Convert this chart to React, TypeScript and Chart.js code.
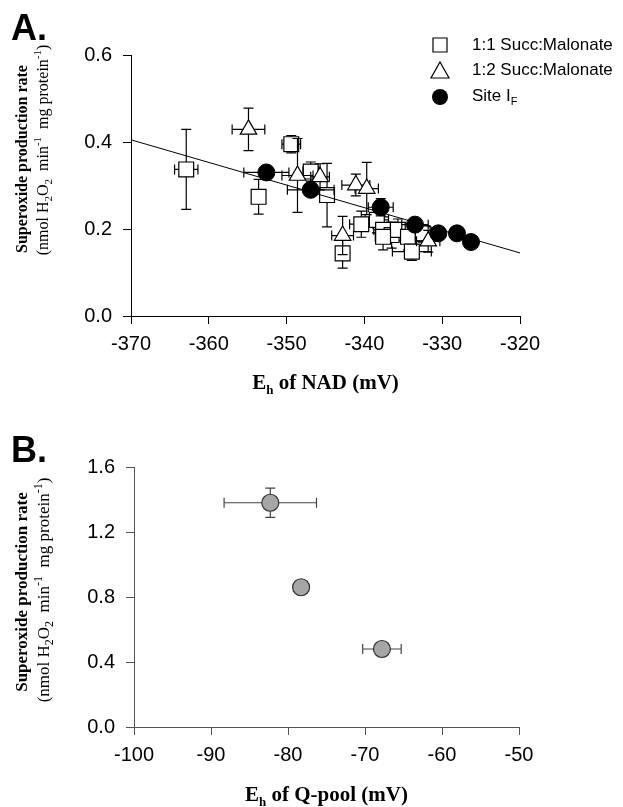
import React, { useEffect, useRef } from 'react';
import { Chart, registerables } from 'chart.js';
Chart.register(...registerables);

// ---------- Panel A data ----------
const nadTicks = [-370, -360, -350, -340, -330, -320];
const rateTicksA = [0.0, 0.2, 0.4, 0.6];

// 1:1 Succ:Malonate (squares)
const sq11X = [-362.9, -353.6, -349.4, -346.9, -344.8, -342.8, -340.4, -338.4, -337.6, -336.5, -335.7, -334.4, -333.9, -337.6, -332.5];
const sq11Y = [0.337, 0.274, 0.395, 0.332, 0.278, 0.144, 0.211, 0.221, 0.198, 0.186, 0.198, 0.182, 0.148, 0.182, 0.19];
const sq11XErr = [1.5, 0, 1.2, 1.0, 0, 0, 1.5, 1.5, 1.2, 1.2, 1.5, 1.5, 2.5, 1.0, 1.5];
const sq11YErr = [0.092, 0.04, 0.02, 0.022, 0.073, 0.034, 0.03, 0.03, 0.03, 0.03, 0.025, 0.03, 0.02, 0.03, 0.02];

// 1:2 Succ:Malonate (triangles)
const tr12X = [-354.9, -348.6, -345.7, -342.8, -341.1, -339.7, -331.8];
const tr12Y = [0.429, 0.323, 0.32, 0.185, 0.301, 0.293, 0.172];
const tr12XErr = [2.1, 2.0, 1.2, 1.4, 1.8, 1.5, 1.5];
const tr12YErr = [0.049, 0.085, 0.03, 0.044, 0.025, 0.06, 0.025];

// Site IF (black circles)
const siteX = [-352.6, -346.9, -337.9, -333.5, -330.5, -328.1, -326.3];
const siteY = [0.33, 0.29, 0.25, 0.21, 0.19, 0.19, 0.17];
const siteXErr = [2.9, 3.0, 1.6, 1.7, 0.8, 0, 0];
const siteYErr = [0, 0.01, 0.02, 0, 0, 0, 0];

// regression line
const fitX = [-370, -320];
const fitY = [0.405, 0.145];

// ---------- Panel B data ----------
const qTicks = [-100, -90, -80, -70, -60, -50];
const rateTicksB = [0.0, 0.4, 0.8, 1.2, 1.6];
const qX = [-82.3, -78.3, -67.8];
const qY = [1.38, 0.86, 0.48];
const qXErr = [6.0, 0, 2.5];
const qYErr = [0.09, 0, 0];

const SANS = '"Liberation Sans", Arial, sans-serif';
const SERIF = '"Liberation Serif", "Times New Roman", serif';

type Seg = { t: string; f: string; dy?: number };

function drawRich(ctx: CanvasRenderingContext2D, segs: Seg[], cx: number, cy: number, rotate: boolean, color = '#000') {
  ctx.save();
  ctx.translate(cx, cy);
  if (rotate) ctx.rotate(-Math.PI / 2);
  ctx.fillStyle = color;
  ctx.textAlign = 'left';
  ctx.textBaseline = 'alphabetic';
  let total = 0;
  segs.forEach((s) => {
    ctx.font = s.f;
    total += ctx.measureText(s.t).width;
  });
  let x = -total / 2;
  segs.forEach((s) => {
    ctx.font = s.f;
    ctx.fillText(s.t, x, s.dy || 0);
    x += ctx.measureText(s.t).width;
  });
  ctx.restore();
}

function pts(xs: number[], ys: number[]) {
  return xs.map((x, i) => ({ x, y: ys[i] }));
}

const errorBarPlugin = {
  id: 'errbars',
  beforeDatasetDraw(chart: any, args: any) {
    const ds = chart.data.datasets[args.index];
    if (!ds.errX && !ds.errY) return;
    const ctx = chart.ctx;
    const xs = chart.scales.x;
    const ys = chart.scales.y;
    const cap = 5;
    ctx.save();
    ctx.strokeStyle = ds.errColor || '#000';
    ctx.lineWidth = 1.2;
    ds.data.forEach((p: any, i: number) => {
      const px = xs.getPixelForValue(p.x);
      const py = ys.getPixelForValue(p.y);
      const ex = ds.errX ? ds.errX[i] : 0;
      const ey = ds.errY ? ds.errY[i] : 0;
      ctx.beginPath();
      if (ex > 0) {
        const l = xs.getPixelForValue(p.x - ex);
        const r = xs.getPixelForValue(p.x + ex);
        ctx.moveTo(l, py); ctx.lineTo(r, py);
        ctx.moveTo(l, py - cap); ctx.lineTo(l, py + cap);
        ctx.moveTo(r, py - cap); ctx.lineTo(r, py + cap);
      }
      if (ey > 0) {
        const t = ys.getPixelForValue(p.y + ey);
        const b = ys.getPixelForValue(p.y - ey);
        ctx.moveTo(px, t); ctx.lineTo(px, b);
        ctx.moveTo(px - cap, t); ctx.lineTo(px + cap, t);
        ctx.moveTo(px - cap, b); ctx.lineTo(px + cap, b);
      }
      ctx.stroke();
    });
    ctx.restore();
  },
};

function axisCommon(min: number, max: number, tickVals: number[], color: string) {
  return {
    type: 'linear' as const,
    min,
    max,
    afterBuildTicks: (s: any) => {
      s.ticks = tickVals.map((v) => ({ value: v }));
    },
    grid: { drawOnChartArea: false, drawTicks: true, tickLength: 8, color, lineWidth: 1 },
    border: { display: true, color, width: 1 },
    ticks: { color: '#000', font: { family: SANS, size: 20 }, autoSkip: false, maxRotation: 0 },
  };
}

function yTitleSegs(size: number): [Seg[], Seg[]] {
  const reg = `${size}px ${SERIF}`;
  const small = `${Math.round(size * 0.68)}px ${SERIF}`;
  const l1: Seg[] = [{ t: 'Superoxide production rate', f: `bold ${size}px ${SERIF}` }];
  const l2: Seg[] = [
    { t: '(nmol H', f: reg },
    { t: '2', f: small, dy: 4 },
    { t: 'O', f: reg },
    { t: '2', f: small, dy: 4 },
    { t: '  min', f: reg },
    { t: '-1', f: small, dy: -7 },
    { t: '  mg protein', f: reg },
    { t: '-1', f: small, dy: -7 },
    { t: ')', f: reg },
  ];
  return [l1, l2];
}

export default function App() {
  const refA = useRef<HTMLCanvasElement>(null);
  const refB = useRef<HTMLCanvasElement>(null);

  useEffect(() => {
    const decorA = {
      id: 'decorA',
      afterDraw(chart: any) {
        const ctx = chart.ctx as CanvasRenderingContext2D;
        // panel letter
        ctx.save();
        ctx.fillStyle = '#000';
        ctx.font = `bold 36px ${SANS}`;
        ctx.textBaseline = 'alphabetic';
        ctx.fillText('A.', 11, 40);
        ctx.restore();
        // y title
        const [l1, l2] = yTitleSegs(16);
        drawRich(ctx, l1, 27, 159, true);
        drawRich(ctx, l2, 48, 150, true);
        // x title
        const xb = `bold 21px ${SERIF}`;
        drawRich(ctx, [
          { t: 'E', f: xb },
          { t: 'h', f: `bold 13px ${SERIF}`, dy: 5 },
          { t: ' of NAD (mV)', f: xb },
        ], (chart.chartArea.left + chart.chartArea.right) / 2, 389, false);
        // legend
        ctx.save();
        ctx.strokeStyle = '#000';
        ctx.lineWidth = 1.2;
        ctx.fillStyle = '#fff';
        ctx.beginPath();
        ctx.rect(433, 38, 14, 14);
        ctx.fill(); ctx.stroke();
        ctx.beginPath();
        ctx.moveTo(440, 62); ctx.lineTo(449, 78); ctx.lineTo(431, 78); ctx.closePath();
        ctx.fill(); ctx.stroke();
        ctx.fillStyle = '#000';
        ctx.beginPath();
        ctx.arc(440, 97, 8, 0, Math.PI * 2);
        ctx.fill();
        ctx.font = `17px ${SANS}`;
        ctx.textBaseline = 'middle';
        ctx.fillText('1:1 Succ:Malonate', 472, 45);
        ctx.fillText('1:2 Succ:Malonate', 472, 70);
        ctx.fillText('Site I', 472, 96);
        const w = ctx.measureText('Site I').width;
        ctx.font = `11px ${SANS}`;
        ctx.fillText('F', 472 + w, 102);
        ctx.restore();
      },
    };

    const chartA = new Chart(refA.current as HTMLCanvasElement, {
      type: 'scatter',
      data: {
        datasets: [
          {
            label: 'Site IF',
            data: pts(siteX, siteY),
            pointStyle: 'circle',
            pointRadius: 8.5,
            backgroundColor: '#000',
            borderColor: '#000',
            borderWidth: 1,
            errX: siteXErr,
            errY: siteYErr,
          } as any,
          {
            type: 'line',
            label: 'fit',
            data: pts(fitX, fitY),
            borderColor: '#000',
            borderWidth: 1,
            pointRadius: 0,
            fill: false,
            showLine: true,
          } as any,
          {
            label: '1:2 Succ:Malonate',
            data: pts(tr12X, tr12Y),
            pointStyle: 'triangle',
            pointRadius: 9.5,
            backgroundColor: '#fff',
            borderColor: '#000',
            borderWidth: 1.2,
            errX: tr12XErr,
            errY: tr12YErr,
          } as any,
          {
            label: '1:1 Succ:Malonate',
            data: pts(sq11X, sq11Y),
            pointStyle: 'rect',
            pointRadius: 10.5,
            backgroundColor: '#fff',
            borderColor: '#000',
            borderWidth: 1.2,
            errX: sq11XErr,
            errY: sq11YErr,
          } as any,
        ],
      },
      options: {
        responsive: false,
        animation: false,
        layout: { padding: { left: 0, top: 55, right: 103, bottom: 34 } },
        plugins: { legend: { display: false }, tooltip: { enabled: false } },
        scales: {
          x: {
            ...axisCommon(-370, -320, nadTicks, '#000'),
            afterFit: (s: any) => { s.height = 60; },
            ticks: { color: '#000', font: { family: SANS, size: 20 }, autoSkip: false, maxRotation: 0, padding: 8 },
          } as any,
          y: {
            ...axisCommon(0, 0.6, rateTicksA, '#000'),
            afterFit: (s: any) => { s.width = 131; },
            ticks: { color: '#000', font: { family: SANS, size: 20 }, autoSkip: false, padding: 11, callback: (v: any) => Number(v).toFixed(1) },
          } as any,
        },
      },
      plugins: [errorBarPlugin, decorA],
    });

    const decorB = {
      id: 'decorB',
      afterDraw(chart: any) {
        const ctx = chart.ctx as CanvasRenderingContext2D;
        ctx.save();
        ctx.fillStyle = '#000';
        ctx.font = `bold 36px ${SANS}`;
        ctx.fillText('B.', 11, 52);
        ctx.restore();
        const [l1, l2] = yTitleSegs(17);
        drawRich(ctx, l1, 27, 182, true);
        drawRich(ctx, l2, 49, 180, true);
        const xb = `bold 21px ${SERIF}`;
        drawRich(ctx, [
          { t: 'E', f: xb },
          { t: 'h', f: `bold 13px ${SERIF}`, dy: 5 },
          { t: ' of Q-pool (mV)', f: xb },
        ], (chart.chartArea.left + chart.chartArea.right) / 2, 391, false);
      },
    };

    const chartB = new Chart(refB.current as HTMLCanvasElement, {
      type: 'scatter',
      data: {
        datasets: [
          {
            label: 'Q-pool',
            data: pts(qX, qY),
            pointStyle: 'circle',
            pointRadius: 8.5,
            backgroundColor: '#a6a6a6',
            borderColor: '#333',
            borderWidth: 1.2,
            errX: qXErr,
            errY: qYErr,
            errColor: '#444',
          } as any,
        ],
      },
      options: {
        responsive: false,
        animation: false,
        layout: { padding: { left: 0, top: 57, right: 104, bottom: 20 } },
        plugins: { legend: { display: false }, tooltip: { enabled: false } },
        scales: {
          x: {
            ...axisCommon(-100, -50, qTicks, '#555'),
            afterFit: (s: any) => { s.height = 60; },
            ticks: { color: '#000', font: { family: SANS, size: 20 }, autoSkip: false, maxRotation: 0, padding: 8 },
          } as any,
          y: {
            ...axisCommon(0, 1.6, rateTicksB, '#555'),
            afterFit: (s: any) => { s.width = 134; },
            ticks: { color: '#000', font: { family: SANS, size: 20 }, autoSkip: false, padding: 11, callback: (v: any) => Number(v).toFixed(1) },
          } as any,
        },
      },
      plugins: [errorBarPlugin, decorB],
    });

    return () => {
      chartA.destroy();
      chartB.destroy();
    };
  }, []);

  return (
    <div style={{ position: 'absolute', left: 0, top: 0, width: 623, height: 807, background: '#fff' }}>
      <canvas ref={refA} width={623} height={410} style={{ display: 'block' }} />
      <canvas ref={refB} width={623} height={397} style={{ display: 'block' }} />
    </div>
  );
}
